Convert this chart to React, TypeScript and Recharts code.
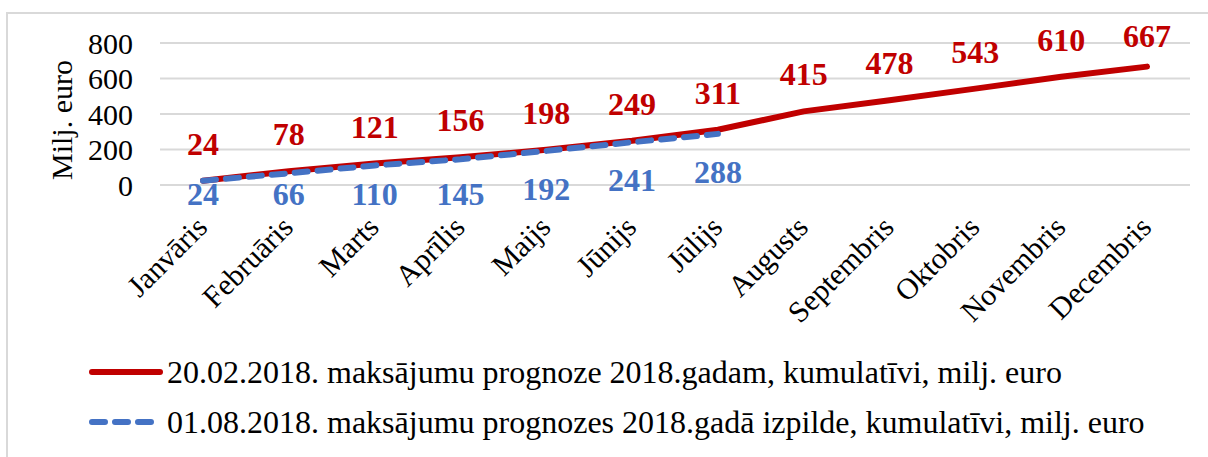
import React from 'react';
import { LineChart, Line, XAxis, YAxis, CartesianGrid, LabelList, Legend } from 'recharts';

const months = ['Janvāris', 'Februāris', 'Marts', 'Aprīlis', 'Maijs', 'Jūnijs', 'Jūlijs', 'Augusts', 'Septembris', 'Oktobris', 'Novembris', 'Decembris'];
const forecast = [24, 78, 121, 156, 198, 249, 311, 415, 478, 543, 610, 667];
const actual = [24, 66, 110, 145, 192, 241, 288];
const yTicks = [0, 200, 400, 600, 800];

const seriesNames = [
  '20.02.2018. maksājumu prognoze 2018.gadam, kumulatīvi, milj. euro',
  '01.08.2018. maksājumu prognozes 2018.gadā izpilde, kumulatīvi, milj. euro',
];

const data = months.map((m, i) => ({
  month: m,
  forecast: forecast[i],
  actual: i < actual.length ? actual[i] : null,
}));

const FONT = '"Liberation Serif", "Times New Roman", serif';
const RED = '#C00000';
const BLUE = '#4472C4';
const W = 1208;
const H = 457;
const M = { top: 43, right: 18, bottom: 172, left: 0 };
const XH = 100;
const plotBottom = H - M.bottom - XH;

const XTick = (props: any) => {
  const { x, y, payload } = props;
  const px = x + 6;
  const py = y + 36;
  return (
    <text x={px} y={py} transform={`rotate(-45, ${px}, ${py})`} textAnchor="end" fontFamily={FONT} fontSize={30} fill="#000">
      {payload.value}
    </text>
  );
};

const RedLabel = (props: any) => {
  const { x, y, value } = props;
  if (value == null) return null;
  return (
    <text x={x} y={Math.max(y - 26, 47)} textAnchor="middle" fontFamily={FONT} fontSize={32} fontWeight="bold" fill={RED}>
      {value}
    </text>
  );
};

const BlueLabel = (props: any) => {
  const { x, y, value } = props;
  if (value == null) return null;
  const center = Math.min(y + 38, plotBottom + 9);
  return (
    <text x={x} y={center + 11} textAnchor="middle" fontFamily={FONT} fontSize={32} fontWeight="bold" fill={BLUE}>
      {value}
    </text>
  );
};

const LegendContent = () => (
  <div style={{ fontFamily: FONT, fontSize: 32, color: '#000', paddingLeft: 88 }}>
    {seriesNames.map((name, i) => (
      <div key={name} style={{ display: 'flex', alignItems: 'center', height: 50, whiteSpace: 'nowrap' }}>
        <svg width={76} height={20} style={{ flex: 'none' }}>
          <line
            x1={4}
            y1={10}
            x2={72}
            y2={10}
            stroke={i === 0 ? RED : BLUE}
            strokeWidth={6}
            strokeLinecap="round"
            strokeDasharray={i === 0 ? undefined : '13 10'}
          />
        </svg>
        <span style={{ marginLeft: 3 }}>{name}</span>
      </div>
    ))}
  </div>
);

export default function App() {
  return (
    <div style={{ position: 'absolute', left: 0, top: 0, width: W, height: H, overflow: 'hidden', background: '#fff' }}>
      <div style={{ position: 'absolute', left: 6, top: 12, width: 1400, height: 600, borderLeft: '2px solid #d9d9d9', borderTop: '2px solid #d9d9d9' }} />
      <div style={{ position: 'absolute', left: 0, top: 0 }}>
        <LineChart width={W} height={H} data={data} margin={M}>
          <CartesianGrid vertical={false} stroke="#d9d9d9" strokeWidth={2} />
          <XAxis
            dataKey="month"
            interval={0}
            height={XH}
            padding={{ left: 43, right: 43 }}
            tickLine={false}
            axisLine={{ stroke: '#d9d9d9', strokeWidth: 2 }}
            tick={<XTick />}
          />
          <YAxis
            width={160}
            domain={[0, 800]}
            ticks={yTicks}
            interval={0}
            axisLine={false}
            tickLine={false}
            tickSize={0}
            tickMargin={27}
            tick={{ fontFamily: FONT, fontSize: 30, fill: '#000' }}
            label={(p: any) => {
              const vb = p.viewBox || {};
              const cx = (vb.x || 0) + 72;
              const cy = (vb.y || 0) + (vb.height || 0) / 2 + 6;
              return (
                <text x={cx} y={cy} transform={`rotate(-90, ${cx}, ${cy})`} textAnchor="middle" fontFamily={FONT} fontSize={30} fill="#000">
                  Milj. euro
                </text>
              );
            }}
          />
          <Legend
            layout="horizontal"
            verticalAlign="middle"
            align="center"
            content={<LegendContent />}
            wrapperStyle={{ top: 347, left: 0, width: W }}
          />
          <Line
            dataKey="forecast"
            name={seriesNames[0]}
            stroke={RED}
            strokeWidth={6}
            strokeLinecap="round"
            dot={false}
            activeDot={false}
            isAnimationActive={false}
            type="linear"
          >
            <LabelList dataKey="forecast" content={<RedLabel />} />
          </Line>
          <Line
            dataKey="actual"
            name={seriesNames[1]}
            stroke={BLUE}
            strokeWidth={6}
            strokeLinecap="round"
            strokeDasharray="13 10"
            dot={false}
            activeDot={false}
            isAnimationActive={false}
            type="linear"
          >
            <LabelList dataKey="actual" content={<BlueLabel />} />
          </Line>
        </LineChart>
      </div>
    </div>
  );
}
